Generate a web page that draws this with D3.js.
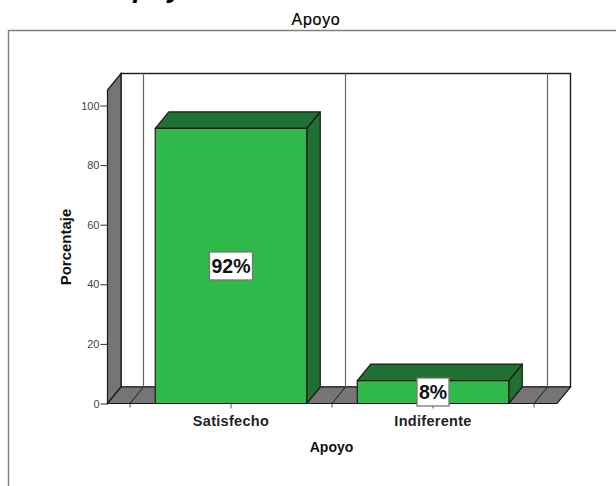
<!DOCTYPE html>
<html><head><meta charset="utf-8">
<script src="https://cdn.jsdelivr.net/npm/d3@7/dist/d3.min.js"></script>
<style>html,body{margin:0;padding:0;background:#fff;overflow:hidden}svg{display:block}text{font-family:"Liberation Sans",sans-serif}</style>
</head><body><svg width="616" height="486"></svg>
<script>
const categories = ["Satisfecho", "Indiferente"];
const values = [92.3, 7.7];
const labels = ["92%", "8%"];
const yTicks = [0, 20, 40, 60, 80, 100];
const chartTitle = "Apoyo";
const xTitle = "Apoyo";
const yTitle = "Porcentaje";
const clippedHeading = "Apoyo";

const svg = d3.select("svg");
const dx = 13.5, dy = -16.5;
const y = d3.scaleLinear().domain([0, 100]).range([403.5, 105.5]);
const x = d3.scaleBand().domain(categories).range([130, 534]);
const barW = x.bandwidth() * 0.75;
const left = 107.5, right = 557;
const bottom = y(0), wallTop = 90;
const dark = "#1a1a1a";
const G = "#757575";
const poly = pts => pts.map(p => p.join(",")).join(" ");

// heading cut by the top edge, chart title, frame
svg.append("text").attr("x", 113).attr("y", -3.5)
  .attr("font-size", 28).attr("font-weight", "bold").attr("font-style", "italic").attr("fill", "#000").text(clippedHeading);
svg.append("text").attr("x", 316).attr("y", 24.5).attr("text-anchor", "middle")
  .attr("font-size", 16).attr("letter-spacing", 0.7).attr("fill", "#000").attr("stroke", "#000").attr("stroke-width", 0.2).text(chartTitle);
svg.append("path").attr("d", "M8.5,486V30.5H616").attr("fill", "none").attr("stroke", "#808080").attr("stroke-width", 1.4);

// back wall
svg.append("rect").attr("x", left + dx).attr("y", wallTop + dy).attr("width", right - left).attr("height", bottom - wallTop)
  .attr("fill", "#fff").attr("stroke", dark).attr("stroke-width", 1.4);
// left wall
svg.append("polygon").attr("points", poly([[left, wallTop], [left + dx, wallTop + dy], [left + dx, bottom + dy], [left, bottom]]))
  .attr("fill", G).attr("stroke", dark).attr("stroke-width", 1.2);
// floor
svg.append("polygon").attr("points", poly([[left, bottom], [left + dx, bottom + dy], [right + dx, bottom + dy], [right, bottom]]))
  .attr("fill", G).attr("stroke", dark).attr("stroke-width", 1.2);

// category divisions
const divisions = [x.range()[0], x(categories[1]), x.range()[1]];
divisions.forEach(d => {
  svg.append("line").attr("x1", d + dx).attr("x2", d + dx).attr("y1", wallTop + dy).attr("y2", bottom + dy).attr("stroke", "#666").attr("stroke-width", 1.2);
  svg.append("line").attr("x1", d).attr("x2", d + dx).attr("y1", bottom).attr("y2", bottom + dy).attr("stroke", dark).attr("stroke-width", 1);
  svg.append("line").attr("x1", d).attr("x2", d).attr("y1", bottom).attr("y2", bottom + 4).attr("stroke", "#555");
});

// bars
categories.forEach((c, i) => {
  const x0 = x(c) + (x.bandwidth() - barW) / 2, x1 = x0 + barW, top = y(values[i]);
  const g = svg.append("g").attr("stroke", dark).attr("stroke-width", 1.2).attr("stroke-linejoin", "round");
  g.append("polygon").attr("points", poly([[x1, top], [x1 + dx, top + dy], [x1 + dx, bottom + dy], [x1, bottom]])).attr("fill", "#1f7032");
  g.append("polygon").attr("points", poly([[x0, top], [x0 + dx, top + dy], [x1 + dx, top + dy], [x1, top]])).attr("fill", "#1f7032");
  g.append("rect").attr("x", x0).attr("y", top).attr("width", barW).attr("height", bottom - top).attr("fill", "#2fb94b");
});

// axes
svg.append("line").attr("x1", left).attr("x2", right).attr("y1", bottom).attr("y2", bottom).attr("stroke", dark).attr("stroke-width", 1.2);
const yAxis = d3.axisLeft(y).tickValues(yTicks).tickSize(7).tickPadding(1);
const ay = svg.append("g").attr("transform", `translate(${left},0)`).call(yAxis);
ay.select(".domain").remove();
ay.selectAll("line").attr("stroke", "#333");
ay.selectAll("text").attr("font-size", 11).attr("fill", "#444").style("font-family", "'Liberation Sans',sans-serif");

const xAxis = d3.axisBottom(x).tickSize(5).tickPadding(7);
const ax = svg.append("g").attr("transform", `translate(0,${bottom})`).call(xAxis);
ax.select(".domain").remove();
ax.selectAll("line").attr("stroke", "#555");
ax.selectAll("text").attr("font-size", 14.5).attr("letter-spacing", 0.3).attr("font-weight", "bold").attr("fill", "#222").style("font-family", "'Liberation Sans',sans-serif");

svg.append("text").attr("x", 331.5).attr("y", 452).attr("text-anchor", "middle").attr("font-size", 14).attr("font-weight", "bold")
  .attr("fill", "#111").text(xTitle);
svg.append("text").attr("transform", "translate(70.5,247) rotate(-90)").attr("text-anchor", "middle").attr("font-size", 15).attr("font-weight", "bold")
  .attr("fill", "#111").text(yTitle);

// value labels
categories.forEach((c, i) => {
  const cx = x(c) + x.bandwidth() / 2;
  const cy = Math.min(y(values[i] / 2), 392);
  const w = i === 0 ? 43 : 32;
  svg.append("rect").attr("x", cx - w / 2).attr("y", cy - 14).attr("width", w).attr("height", 28).attr("fill", "#fff").attr("stroke", "#777").attr("stroke-width", 1.3);
  svg.append("text").attr("x", cx).attr("y", cy + 7).attr("text-anchor", "middle").attr("font-size", 19.5).attr("font-weight", "bold")
    .attr("fill", "#111").text(labels[i]);
});
</script></body></html>
